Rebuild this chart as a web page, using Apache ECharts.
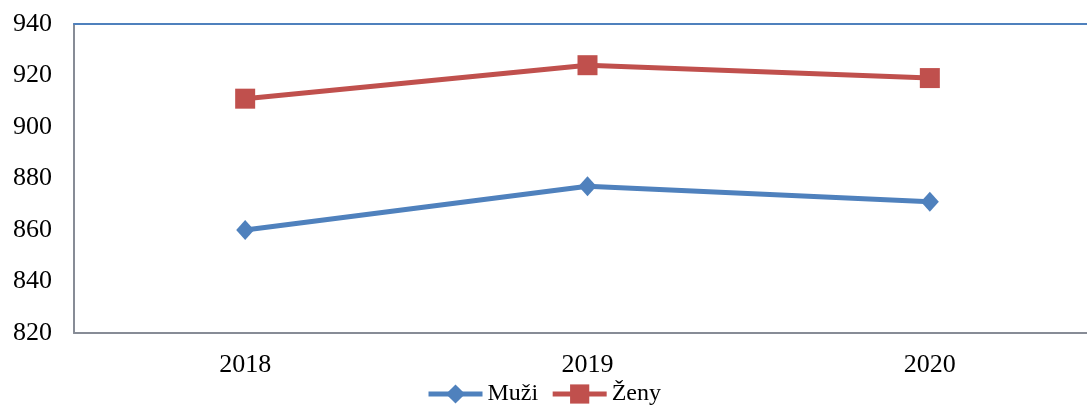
<!DOCTYPE html>
<html>
<head>
<meta charset="utf-8">
<script src="https://cdn.jsdelivr.net/npm/echarts@6/dist/echarts.min.js"></script>
<style>html,body{margin:0;padding:0;background:#fff;}#c{width:1087px;height:411px;}</style>
</head>
<body>
<div id="c"></div>
<script>
const categories = ['2018', '2019', '2020'];
const muzi = [860, 877, 871];
const zeny = [911, 924, 919];
const yMin = 820, yMax = 940, yStep = 20;

const chart = echarts.init(document.getElementById('c'), null, {renderer: 'canvas'});
const font = '"Liberation Serif", "Times New Roman", serif';
chart.setOption({
  animation: false,
  backgroundColor: '#ffffff',
  grid: {left: 74, top: 24, height: 309, width: 1027, containLabel: false, outerBoundsMode: 'none'},
  legend: {
    bottom: 0, left: 'center',
    itemWidth: 54, itemHeight: 24, itemGap: 12,
    lineStyle: {width: 5},
    textStyle: {fontFamily: font, fontSize: 24, color: '#000'},
    data: ['Muži', 'Ženy']
  },
  xAxis: [{
    type: 'category', data: categories, boundaryGap: true,
    axisLine: {lineStyle: {color: '#878C96', width: 2}},
    axisTick: {show: false},
    axisLabel: {fontFamily: font, fontSize: 26, color: '#000', margin: 19}
  }, {
    type: 'category', data: categories, position: 'top',
    axisLine: {show: true, lineStyle: {color: '#4F81BD', width: 2}},
    axisTick: {show: false}, axisLabel: {show: false}
  }],
  yAxis: {
    type: 'value', min: yMin, max: yMax, interval: yStep,
    axisLine: {show: true, lineStyle: {color: '#878C96', width: 2}},
    axisTick: {show: false},
    splitLine: {show: false},
    axisLabel: {fontFamily: font, fontSize: 26, color: '#000', margin: 22}
  },
  series: [{
    name: 'Muži', type: 'line', data: muzi,
    symbol: 'diamond', symbolSize: [18, 20],
    lineStyle: {color: '#4F81BD', width: 5},
    itemStyle: {color: '#4F81BD'}
  }, {
    name: 'Ženy', type: 'line', data: zeny,
    symbol: 'rect', symbolSize: 20,
    lineStyle: {color: '#C0504D', width: 5},
    itemStyle: {color: '#C0504D'}
  }]
});
</script>
</body>
</html>
